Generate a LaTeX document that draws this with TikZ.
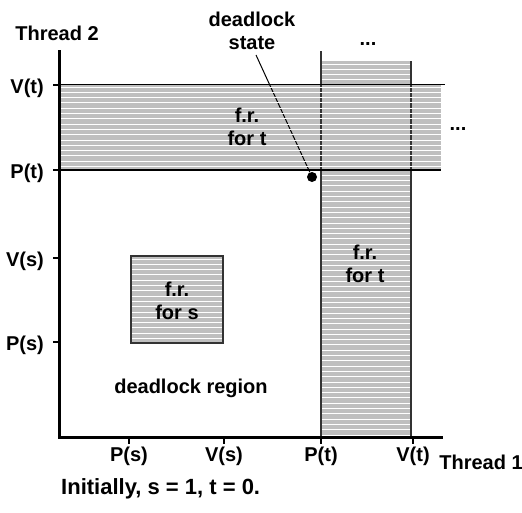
\documentclass[tikz,border=0pt]{standalone}
\usepackage{fontspec}
\setmainfont{Liberation Sans}
\usetikzlibrary{positioning}

\definecolor{frgray}{gray}{0.75}

\tikzset{
  lbl/.style={font=\bfseries\fontsize{20}{23}\selectfont, inner sep=0pt},
  frlbl/.style={lbl, align=center},
  hatchline/.style={white, line width=1pt},
  axisline/.style={line width=3pt},
  tickline/.style={line width=2pt},
  border/.style={line width=1.2pt, black!80},
}

\begin{document}
\begin{tikzpicture}[x=1pt, y=-1pt]
\useasboundingbox (0,0) rectangle (522,512);

% vertical forbidden region for t (Thread 1)
\fill[frgray] (321,61) rectangle (411,437);
\foreach \yy in {64,69.3,...,436}
  \draw[hatchline] (321,\yy) -- (411,\yy);

% forbidden region for s
\fill[frgray] (131,256) rectangle (223,343);
\foreach \yy in {259,264.3,...,342}
  \draw[hatchline] (131,\yy) -- (223,\yy);
\draw[border] (131,256) rectangle (223,343);

% horizontal forbidden region for t (Thread 2)
\fill[frgray] (59,84) rectangle (441,170);
\draw[border] (321,51) -- (321,437);
\draw[border] (411,61) -- (411,437);

% deadlock state
\node[circle, fill=black, minimum size=10pt, inner sep=0pt] (dlsdot) at (312,177) {};
\coordinate (dlsfoot) at (256,55);
\draw[line width=1pt] (dlsfoot) -- (dlsdot);

\foreach \yy in {87,92.3,...,169}
  \draw[hatchline] (59,\yy) -- (441,\yy);
\draw[line width=1pt] (59,84) -- (445,84);
\draw[line width=1.5pt] (59,170) -- (441,170);

% axes
\coordinate (origin) at (59,437);
\coordinate (yend) at (59,50);
\coordinate (xend) at (443,437);
\draw[axisline] (yend) -- (origin) -- (xend);

% ticks on Thread 2 axis
\foreach \yy/\txt in {85/V(t), 170/P(t), 258/V(s), 342/P(s)} {
  \draw[tickline] (53,\yy) -- (59,\yy);
  \node[lbl, anchor=east] at (44,\yy+3) {\txt};
}

% ticks on Thread 1 axis
\foreach \xx/\txt in {129/P(s), 224/V(s), 321/P(t), 413/V(t)} {
  \draw[tickline] (\xx,437) -- (\xx,444);
  \node[lbl] at (\xx,456) {\txt};
}

\node[lbl] (thr2) at (57,33) {Thread 2};
\node[lbl] (thr1) at (481,462) {Thread 1};

\node[frlbl] (frt1) at (247,127) {f.r.\\for t};
\node[frlbl] (frt2) at (365,264) {f.r.\\for t};
\node[frlbl] (frs) at (177,301) {f.r.\\for s};

\node[frlbl] (dls) at (252,31) {deadlock\\state};
\node[lbl] (dlr) at (191,388) {deadlock region};

\node[lbl] (more1) at (368,44) {...};
\node[lbl] (more2) at (458,129) {...};

\node[lbl, font=\bfseries\fontsize{22}{26}\selectfont, anchor=west] (init) at (61,489) {Initially, s = 1, t = 0.};
\end{tikzpicture}
\end{document}
